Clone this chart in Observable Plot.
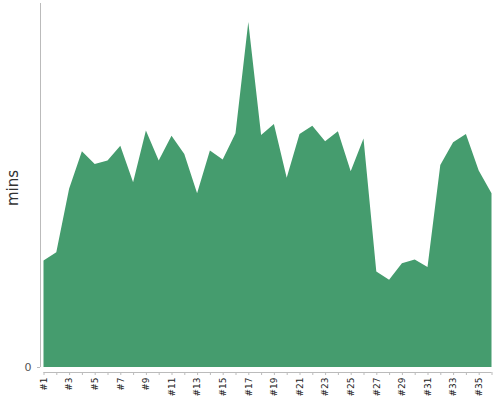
<!DOCTYPE html>
<html>
<head>
<meta charset="utf-8">
<script src="https://cdn.jsdelivr.net/npm/d3@7"></script>
<script src="https://cdn.jsdelivr.net/npm/@observablehq/plot@0.6"></script>
<style>
  html, body { margin: 0; padding: 0; background: #fff; }
</style>
</head>
<body>
<div id="chart"></div>
<script>
const categories = ["#1","#2","#3","#4","#5","#6","#7","#8","#9","#10","#11","#12",
  "#13","#14","#15","#16","#17","#18","#19","#20","#21","#22","#23","#24",
  "#25","#26","#27","#28","#29","#30","#31","#32","#33","#34","#35","#36"];
const minutes = [11.7, 12.6, 19.6, 23.7, 22.3, 22.7, 24.3, 20.3, 26.0, 22.7, 25.4, 23.4,
  19.1, 23.8, 22.8, 25.7, 37.9, 25.5, 26.7, 20.8, 25.6, 26.5, 24.8, 25.9,
  21.5, 25.1, 10.5, 9.6, 11.4, 11.8, 11.0, 22.2, 24.7, 25.6, 21.6, 19.1];
const labeledTicks = ["#1","#3","#5","#7","#9","#11","#13","#15","#17","#19","#21","#23",
  "#25","#27","#29","#31","#33","#35"];
const yTicks = [0];
const yLabel = "mins";
const yMax = 40;

const data = categories.map((c, i) => ({cat: c, mins: minutes[i]}));

const chart = Plot.plot({
  width: 500,
  height: 400,
  marginTop: 3,
  marginLeft: 40,
  marginRight: 8,
  marginBottom: 28,
  style: {fontFamily: "DejaVu Sans", fontSize: "9px", color: "#333", background: "white"},
  x: {type: "point", domain: categories, padding: 0, round: false, insetLeft: 3.5, insetRight: 0.5},
  y: {domain: [0, yMax], insetBottom: 5},
  marks: [
    Plot.areaY(data, {x: "cat", y: "mins", fill: "#459c6e"}),
    Plot.ruleX([categories[0]], {y1: 0, y2: yMax, dx: -3.5, stroke: "#bbb"}),
    Plot.ruleY([0], {dy: 5, insetLeft: 3.5, insetRight: 0.5, stroke: "#bbb"}),
    Plot.axisX({
      tickSize: 3, tickPadding: 2, tickRotate: -90,
      tickFormat: d => labeledTicks.includes(d) ? d : "",
      stroke: "#bbb", fill: "#222", label: null
    }),
    Plot.axisY({
      ticks: yTicks, tickSize: 3, tickPadding: 6,
      stroke: "#bbb", fill: "#555", fontSize: 11, label: null
    }),
    Plot.text([yLabel], {frameAnchor: "left", textAnchor: "middle", dx: -27, rotate: -90, fontSize: 15, fill: "#333"})
  ]
});
document.getElementById("chart").appendChild(chart);
</script>
</body>
</html>
